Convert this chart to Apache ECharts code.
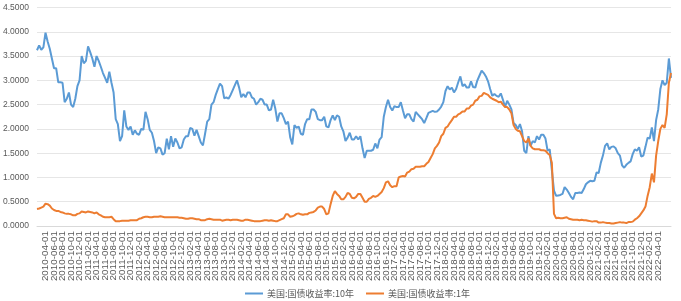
<!DOCTYPE html>
<html>
<head>
<meta charset="utf-8">
<script src="https://cdn.jsdelivr.net/npm/echarts@6/dist/echarts.min.js"></script>
<style>
html,body{margin:0;padding:0;background:#fff;}
#chart{width:681px;height:301px;}
</style>
</head>
<body>
<div id="chart"></div>
<script>
// Category dates: 1st and 16th of each month, 2010-02-01 .. 2022-07-01
const startYear = 2010, startMonth = 2, endYear = 2022, endMonth = 7;
const dates = [];
for (let y = startYear; y <= endYear; y++) {
  for (let m = (y === startYear ? startMonth : 1); m <= 12; m++) {
    const mm = (m < 10 ? '0' : '') + m;
    dates.push(y + '-' + mm + '-01');
    if (y === endYear && m === endMonth) break;
    dates.push(y + '-' + mm + '-16');
  }
}

const seriesNames = ['美国:国债收益率:10年', '美国:国债收益率:1年'];

// 10-year yield, semi-monthly
const yield10 = [
  // 2010 Feb-Dec
  3.62,3.72, 3.63,3.68, 3.98,3.80, 3.65,3.45, 3.25,3.25, 2.96,2.96, 2.95,2.55, 2.62,2.75, 2.50,2.45, 2.62,2.88, 3.00,3.50,
  // 2011
  3.35,3.40, 3.70,3.58, 3.45,3.28, 3.50,3.40, 3.28,3.15, 3.05,2.95, 3.18,2.95, 2.75,2.20, 2.10,1.75, 1.85,2.38, 2.05,1.98, 2.05,1.88,
  // 2012
  1.97,1.90, 1.88,2.00, 1.98,2.35, 2.20,1.98, 1.92,1.75, 1.50,1.62, 1.60,1.47, 1.50,1.80, 1.58,1.85, 1.63,1.80, 1.72,1.60, 1.62,1.78,
  // 2013
  1.85,1.85, 2.02,2.00, 1.86,1.98, 1.85,1.72, 1.66,1.90, 2.15,2.20, 2.50,2.55, 2.70,2.82, 2.93,2.88, 2.63,2.65, 2.62,2.70, 2.80,2.90,
  // 2014
  3.00,2.85, 2.65,2.72, 2.65,2.75, 2.75,2.65, 2.62,2.50, 2.55,2.62, 2.60,2.50, 2.50,2.38, 2.40,2.60, 2.42,2.15, 2.32,2.32, 2.22,2.10,
  // 2015
  2.15,1.83, 1.68,2.08, 2.02,2.05, 1.90,1.88, 2.10,2.20, 2.20,2.40, 2.40,2.35, 2.20,2.18, 2.18,2.25, 2.05,2.03, 2.18,2.28, 2.18,2.28,
  // 2016
  2.25,2.05, 1.95,1.75, 1.82,1.92, 1.78,1.78, 1.85,1.78, 1.85,1.60, 1.40,1.55, 1.55,1.55, 1.57,1.70, 1.60,1.78, 1.83,2.25, 2.45,2.60,
  // 2017
  2.45,2.38, 2.47,2.45, 2.45,2.55, 2.38,2.22, 2.30,2.30, 2.20,2.15, 2.35,2.30, 2.25,2.20, 2.12,2.22, 2.33,2.35, 2.37,2.35, 2.36,2.40,
  // 2018
  2.46,2.55, 2.78,2.88, 2.81,2.85, 2.75,2.82, 2.96,3.08, 2.88,2.92, 2.85,2.85, 2.98,2.86, 2.85,3.00, 3.10,3.20, 3.15,3.08, 2.98,2.82,
  // 2019
  2.68,2.72, 2.68,2.66, 2.73,2.60, 2.45,2.58, 2.50,2.40, 2.12,2.08, 2.00,2.10, 1.95,1.55, 1.50,1.85, 1.65,1.75, 1.72,1.85, 1.78,1.88,
  // 2020
  1.88,1.80, 1.55,1.58, 1.15,0.73, 0.62,0.63, 0.64,0.66, 0.80,0.75, 0.68,0.60, 0.55,0.68, 0.68,0.69, 0.68,0.76, 0.86,0.90, 0.93,0.92,
  // 2021
  0.93,1.10, 1.09,1.30, 1.45,1.65, 1.70,1.58, 1.63,1.64, 1.60,1.50, 1.45,1.25, 1.20,1.26, 1.30,1.33, 1.48,1.58, 1.55,1.62, 1.43,1.45,
  // 2022 Jan-Jul1
  1.63,1.82, 1.80,2.03, 1.75,2.18, 2.40,2.82, 3.00,2.90, 2.95,3.45, 3.05
];

// 1-year yield, semi-monthly
const yield1 = [
  // 2010 Feb-Dec
  0.35,0.36, 0.38,0.40, 0.46,0.45, 0.42,0.36, 0.33,0.31, 0.31,0.29, 0.28,0.26, 0.25,0.25, 0.24,0.22, 0.22,0.25, 0.26,0.30,
  // 2011
  0.29,0.28, 0.30,0.29, 0.28,0.26, 0.28,0.24, 0.22,0.19, 0.18,0.18, 0.18,0.19, 0.14,0.10, 0.10,0.10, 0.11,0.11, 0.11,0.11, 0.12,0.12,
  // 2012
  0.12,0.12, 0.15,0.16, 0.18,0.19, 0.19,0.18, 0.18,0.19, 0.19,0.19, 0.20,0.19, 0.18,0.18, 0.18,0.18, 0.18,0.18, 0.18,0.17, 0.17,0.16,
  // 2013
  0.15,0.15, 0.16,0.16, 0.15,0.14, 0.14,0.12, 0.12,0.12, 0.14,0.15, 0.14,0.13, 0.13,0.13, 0.13,0.11, 0.12,0.13, 0.13,0.12, 0.13,0.13,
  // 2014
  0.13,0.12, 0.11,0.11, 0.13,0.13, 0.12,0.11, 0.10,0.10, 0.10,0.10, 0.11,0.12, 0.12,0.11, 0.12,0.11, 0.10,0.10, 0.12,0.14, 0.16,0.24,
  // 2015
  0.24,0.19, 0.20,0.22, 0.25,0.26, 0.24,0.23, 0.24,0.24, 0.27,0.28, 0.29,0.32, 0.38,0.40, 0.40,0.35, 0.24,0.26, 0.45,0.62, 0.72,0.66,
  // 2016
  0.62,0.55, 0.55,0.60, 0.68,0.66, 0.58,0.57, 0.60,0.66, 0.66,0.58, 0.50,0.50, 0.56,0.58, 0.62,0.60, 0.62,0.66, 0.70,0.78, 0.90,0.92,
  // 2017
  0.84,0.80, 0.82,0.82, 1.00,1.02, 1.03,1.02, 1.10,1.12, 1.17,1.18, 1.22,1.22, 1.22,1.23, 1.23,1.28, 1.32,1.40, 1.48,1.60, 1.65,1.72,
  // 2018
  1.85,1.90, 2.02,2.05, 2.12,2.18, 2.25,2.25, 2.30,2.32, 2.36,2.36, 2.42,2.42, 2.48,2.50, 2.58,2.60, 2.67,2.68, 2.74,2.72, 2.70,2.65,
  // 2019
  2.62,2.60, 2.58,2.55, 2.56,2.50, 2.45,2.45, 2.40,2.32, 2.08,2.00, 1.96,1.95, 1.85,1.75, 1.72,1.80, 1.65,1.60, 1.58,1.58, 1.58,1.56,
  // 2020
  1.56,1.55, 1.50,1.46, 1.30,0.25, 0.16,0.17, 0.16,0.16, 0.17,0.18, 0.15,0.14, 0.13,0.13, 0.13,0.12, 0.13,0.12, 0.12,0.11, 0.10,0.09,
  // 2021
  0.10,0.10, 0.07,0.07, 0.08,0.07, 0.06,0.06, 0.05,0.05, 0.06,0.07, 0.08,0.07, 0.07,0.06, 0.08,0.08, 0.09,0.13, 0.16,0.20, 0.26,0.32,
  // 2022 Jan-Jul1
  0.40,0.62, 0.80,1.08, 0.90,1.45, 1.75,2.00, 2.08,2.02, 2.30,2.95, 3.15
];

const yTicks = { min: 0, max: 4.5, interval: 0.5 };

const chart = echarts.init(document.getElementById('chart'), null, { renderer: 'canvas' });
chart.setOption({
  animation: false,
  backgroundColor: '#ffffff',
  color: ['#5B9BD5', '#ED7D31'],
  grid: { left: 36, right: 10, top: 7.5, bottom: 75 },
  legend: {
    data: seriesNames,
    left: 240,
    top: 284,
    icon: 'rect',
    itemWidth: 18,
    itemHeight: 2,
    itemGap: 12,
    textStyle: { fontFamily: 'Noto Sans CJK SC', fontSize: 9, color: '#595959', padding: [0, 0, 0, -1] }
  },
  xAxis: {
    type: 'category',
    data: dates,
    boundaryGap: false,
    axisLine: { show: true, lineStyle: { color: '#D9D9D9', width: 1 } },
    axisTick: { show: false },
    axisLabel: {
      interval: 3,
      rotate: 90,
      margin: 5,
      fontSize: 9.8,
      fontFamily: 'Liberation Sans',
      color: '#595959'
    },
    splitLine: { show: false }
  },
  yAxis: {
    type: 'value',
    min: yTicks.min,
    max: yTicks.max,
    interval: yTicks.interval,
    axisLine: { show: false },
    axisTick: { show: false },
    axisLabel: {
      margin: 8,
      fontSize: 8.5,
      fontFamily: 'Liberation Sans',
      color: '#595959',
      formatter: v => v.toFixed(4)
    },
    splitLine: { lineStyle: { color: '#E6E6E6', width: 1 } }
  },
  series: [
    { name: seriesNames[0], type: 'line', data: yield10, symbol: 'none', lineStyle: { width: 2 }, z: 2 },
    { name: seriesNames[1], type: 'line', data: yield1, symbol: 'none', lineStyle: { width: 2 }, z: 3 }
  ]
});
</script>
</body>
</html>
